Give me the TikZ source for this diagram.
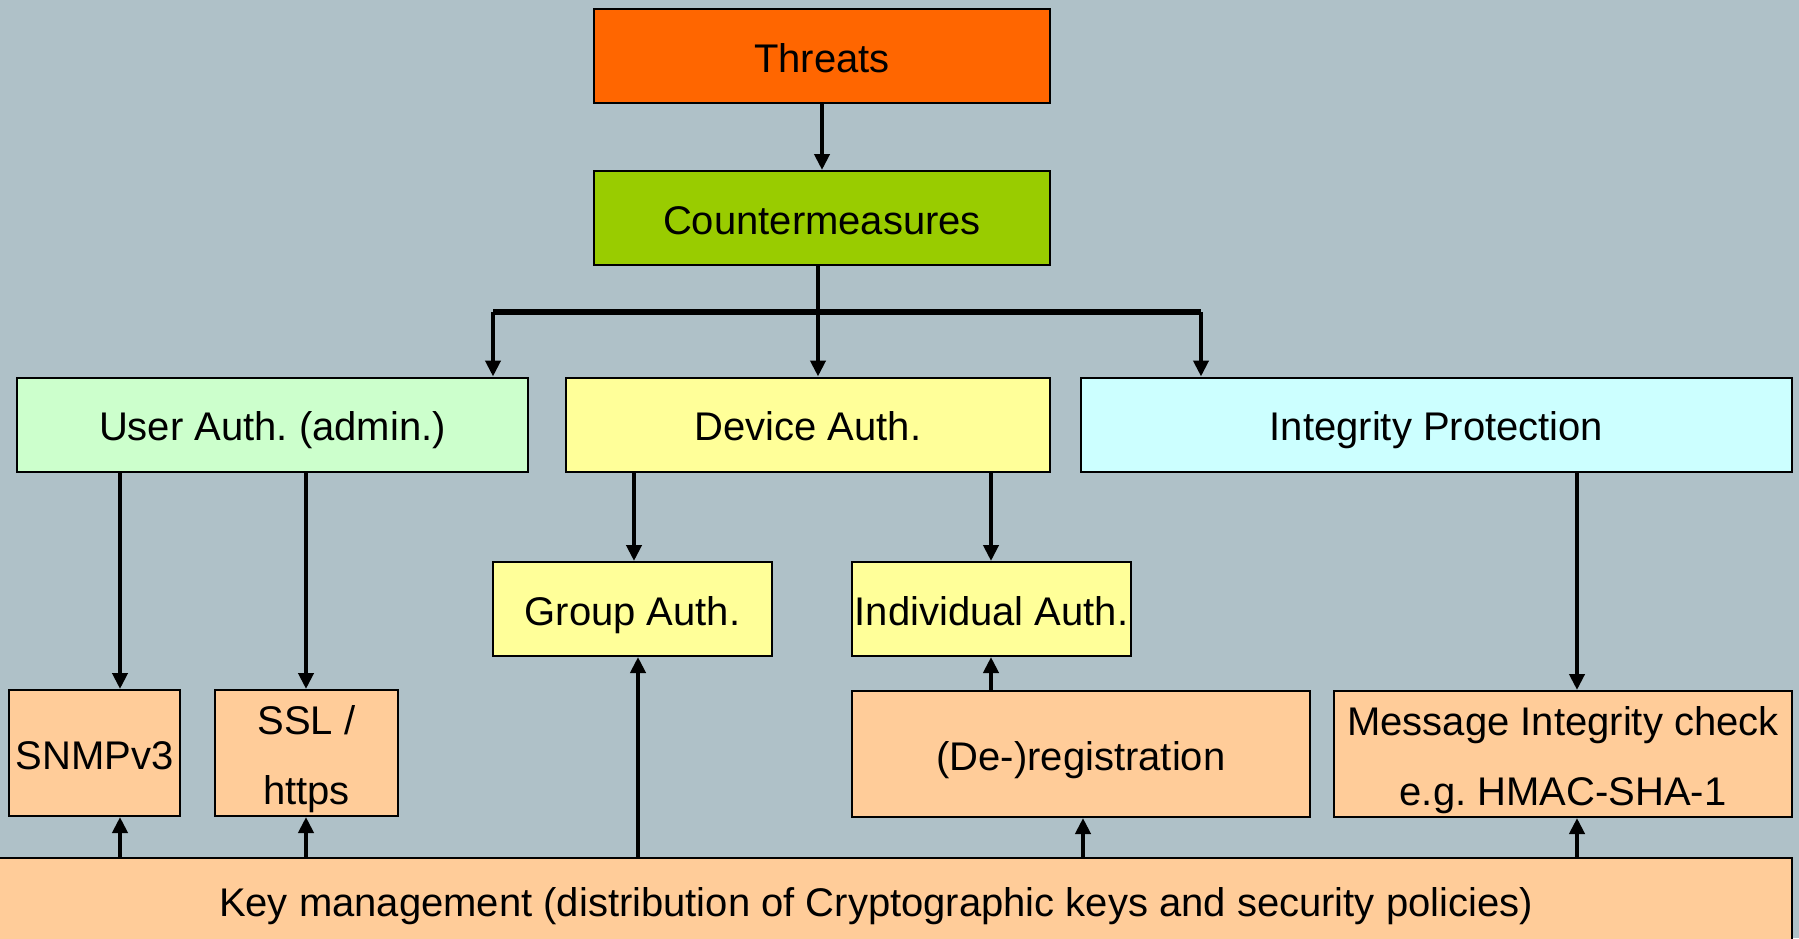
\documentclass[tikz,border=0pt]{standalone}
\usepackage{fontspec}
\setmainfont{Liberation Sans}
\usetikzlibrary{arrows.meta}
\usetikzlibrary{positioning}

\definecolor{slate}{RGB}{175,193,200}
\definecolor{threatorange}{RGB}{255,102,0}
\definecolor{countergreen}{RGB}{153,204,0}
\definecolor{mint}{RGB}{204,255,204}
\definecolor{paleyellow}{RGB}{255,255,153}
\definecolor{palecyan}{RGB}{204,255,255}
\definecolor{peach}{RGB}{255,204,153}

\tikzset {
  block/.style = {
    draw = black,
    line width = 1pt,
    rectangle,
    align = center,
    inner sep = 0,
    text height = 16pt,
    text depth = 0pt,
    font = \fontsize{20pt}{35pt}\selectfont
  },
  % one-line boxes of the upper rows
  flat/.style = {
    block,
    minimum height = 47pt
  },
  % boxes of the lower row
  tall/.style = {
    block,
    fill = peach,
    minimum height = 63pt
  },
  % two lines of text
  twoline/.style = {
    tall,
    text height = 51pt
  },
  % connector with a filled head
  link/.style = {
    draw = black,
    line width = 2.4pt,
    -{Triangle[width = 7.5pt, length = 8pt]}
  },
  % connector with no head
  nlink/.style = {
    draw = black,
    line width = 2.6pt
  }
}

\begin{document}
\frenchspacing
\begin{tikzpicture}[x = 0.5pt, y = -0.5pt]
    \useasboundingbox (0, 0) rectangle (1799, 938);
    \clip (0, 0) rectangle (1799, 938);
    \fill[slate] (0, 0) rectangle (1799, 938);

    \node[flat, fill = threatorange, minimum width = 228pt] (threats) at (822, 56) {Threats};
    \node[flat, fill = countergreen, minimum width = 228pt] (counter) [below=33pt of threats] {Countermeasures};

    \node[flat, fill = mint, minimum width = 255.5pt] (userauth) at (272.5, 424.5) {User Auth. (admin.)};
    \node[flat, fill = paleyellow, minimum width = 242pt] (devauth) at (808, 424.5) {Device Auth.};
    \node[flat, fill = palecyan, minimum width = 355.5pt] (integ) at (1436.5, 424.5) {Integrity Protection};

    \node[flat, fill = paleyellow, minimum width = 139.5pt] (grpauth) at (632.5, 609) {Group Auth.};
    \node[flat, fill = paleyellow, minimum width = 139.5pt] (indauth) at (991.5, 609) {Individual Auth.};

    \node[tall, minimum width = 85.5pt] (snmp) at (94.5, 753) {SNMPv3};
    \node[twoline, minimum width = 91.5pt] (ssl) at (306.5, 753) {SSL /\\https};
    \node[tall, minimum width = 229pt] (dereg) at (1081, 754) {(De-)registration};
    \node[twoline, minimum width = 229pt] (msg) at (1563, 754) {Message Integrity check\\e.g. HMAC-SHA-1};

    \node[block, fill = peach, minimum width = 916pt, minimum height = 46pt, text height = 12.4pt] (key) at (876, 904)
      {Key management (distribution of Cryptographic keys and security policies)};

    % columns of the vertical connectors
    \coordinate (col-dev) at (818, 0);
    \coordinate (col-snmp) at (120, 0);
    \coordinate (col-ssl) at (306, 0);
    \coordinate (col-grp-top) at (634, 0);
    \coordinate (col-grp-bot) at (638, 0);
    \coordinate (col-ind) at (991, 0);
    \coordinate (col-dereg) at (1083, 0);
    \coordinate (col-msg) at (1577, 0);

    \coordinate (bar-left) at (493, 312);
    \coordinate (bar-right) at (1201, 312);

    \draw [link] (threats) -- (counter);

    \draw [nlink] (bar-left) -- (bar-right);
    \draw [link] (counter.south -| col-dev) -- (devauth.north -| col-dev);
    \draw [link] (bar-left) -- (bar-left |- userauth.north);
    \draw [link] (bar-right) -- (bar-right |- integ.north);

    \draw [link] (userauth.south -| col-snmp) -- (snmp.north -| col-snmp);
    \draw [link] (userauth.south -| col-ssl) -- (ssl.north -| col-ssl);
    \draw [link] (devauth.south -| col-grp-top) -- (grpauth.north -| col-grp-top);
    \draw [link] (devauth.south -| col-ind) -- (indauth.north -| col-ind);
    \draw [link] (integ.south -| col-msg) -- (msg.north -| col-msg);

    \draw [link] (key.north -| col-snmp) -- (snmp.south -| col-snmp);
    \draw [link] (key.north -| col-ssl) -- (ssl.south -| col-ssl);
    \draw [link] (key.north -| col-grp-bot) -- (grpauth.south -| col-grp-bot);
    \draw [link] (dereg.north -| col-ind) -- (indauth.south -| col-ind);
    \draw [link] (key.north -| col-dereg) -- (dereg.south -| col-dereg);
    \draw [link] (key.north -| col-msg) -- (msg.south -| col-msg);
  \end{tikzpicture}
\end{document}
